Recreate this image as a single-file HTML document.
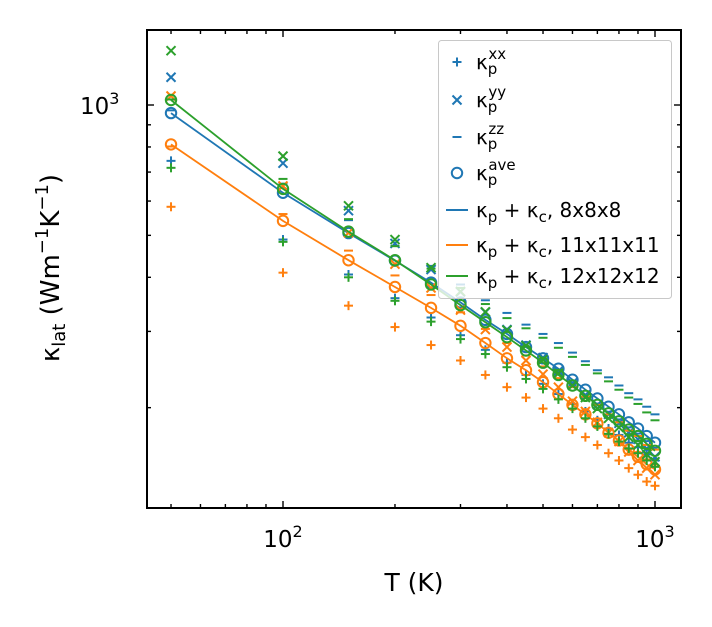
<!DOCTYPE html>
<html><head><meta charset="utf-8"><style>
html,body{margin:0;padding:0;background:#fff;}
svg{display:block;font-family:"DejaVu Sans","Liberation Sans",sans-serif;}
</style></head><body>
<svg id="chart" width="712" height="627" viewBox="0 0 712 627">
<rect x="0" y="0" width="712" height="627" fill="#fff"/>
<g id="marks"></g>
<g id="axes"></g>
<g id="legend"></g>
</svg>
<script>
const temps = [50,100,150,200,250,300,350,400,450,500,550,600,650,700,750,800,850,900,950,1000];
const blueXX = [743,489,406,358,323,294,272,254,238,227,215,204,196,187,179,173,166,162,156,151];
const blueYY = [1159,734,570,479,417,370,332,303,279,261,243,228,214,203,193,184,175,169,161,154];
const blueZZ = [972,658,542,473,425,385,354,331,311,296,282,268,256,244,235,225,216,209,201,193];
const blueAve = [958,627,506,437,389,350,319,296,276,260,246,232,220,210,201,193,185,179,172,166];
const orangeXX = [582,410,344,307,279,257,238,223,211,199,189,178,171,164,157,151,145,140,135,132];
const orangeYY = [1049,650,507,429,378,336,303,276,257,239,223,207,196,185,175,167,158,151,145,140];
const orangeZZ = [802,560,461,404,364,332,304,282,264,249,234,223,212,203,193,185,177,172,164,160];
const orangeAve = [811,540,438,380,340,309,282,260,244,229,215,203,193,184,175,168,160,154,148,144];
const greenXX = [716,483,400,353,316,288,266,248,233,221,209,199,189,181,174,167,161,157,151,146];
const greenYY = [1335,762,585,489,421,371,333,302,278,258,240,225,211,199,189,180,171,164,156,150];
const greenZZ = [1030,675,545,472,419,378,347,322,305,290,275,262,251,240,230,220,211,204,195,187];
const greenAve = [1027,640,510,438,385,345,315,291,271,254,238,225,213,203,194,186,178,172,165,159];
const xMajorTicks = [100,1000];
const xMajorLabels = ["2","3"];
const xMinorTicks = [50,60,70,80,90,200,300,400,500,600,700,800,900];
const yMajorTicks = [1000];
const yMinorTicks = [200,300,400,500,600,700,800,900];

const NS="http://www.w3.org/2000/svg";
const L=147,R=681,T=30,B=508;
function xs(v){return 283+372*(Math.log10(v)-2);}
function ys(v){return 105+433*(3-Math.log10(v));}
function mk(tag,attrs,parent){const e=document.createElementNS(NS,tag);for(const k in attrs)e.setAttribute(k,attrs[k]);parent.appendChild(e);return e;}
const marks=document.getElementById('marks');
const axes=document.getElementById('axes');
const legend=document.getElementById('legend');

function marker(type,cx,cy,color,parent){
  const g=mk('g',{stroke:color,'stroke-width':2,fill:'none'},parent);
  if(type==='plus'){mk('line',{x1:cx-4.5,y1:cy,x2:cx+4.5,y2:cy},g);mk('line',{x1:cx,y1:cy-4.5,x2:cx,y2:cy+4.5},g);}
  else if(type==='x'){mk('line',{x1:cx-4.5,y1:cy-4.5,x2:cx+4.5,y2:cy+4.5},g);mk('line',{x1:cx-4.5,y1:cy+4.5,x2:cx+4.5,y2:cy-4.5},g);}
  else if(type==='dash'){mk('line',{x1:cx-4.5,y1:cy,x2:cx+4.5,y2:cy},g);}
  else {mk('circle',{cx:cx,cy:cy,r:5.2},g);}
  return g;
}
const series=[
 {name:'8x8x8',color:'#1f77b4',xx:blueXX,yy:blueYY,zz:blueZZ,ave:blueAve},
 {name:'11x11x11',color:'#ff7f0e',xx:orangeXX,yy:orangeYY,zz:orangeZZ,ave:orangeAve},
 {name:'12x12x12',color:'#2ca02c',xx:greenXX,yy:greenYY,zz:greenZZ,ave:greenAve}
];
series.forEach(s=>{
  const g=mk('g',{},marks);
  
  
  [['plus',s.xx,'xx'],['x',s.yy,'yy'],['dash',s.zz,'zz'],['circle',s.ave,'ave']].forEach(([t,arr,nm])=>{
    arr.forEach((v,i)=>{
      const m=marker(t,xs(temps[i]),ys(v),s.color,g);
      
      
    });
  });
  const pts=s.ave.map((v,i)=>xs(temps[i]).toFixed(1)+','+ys(v).toFixed(1)).join(' ');
  const pl=mk('polyline',{points:pts,fill:'none',stroke:s.color,'stroke-width':1.8},g);
  
  
});

const fr=mk('rect',{x:L,y:T,width:R-L,height:B-T,fill:'none',stroke:'#000','stroke-width':2},axes);


function tick(x1,y1,x2,y2){mk('line',{x1,y1,x2,y2,stroke:'#000','stroke-width':1.4},axes);}
xMajorTicks.forEach((v,i)=>{const x=xs(v);tick(x,B,x,B-7);tick(x,T,x,T+7);
  const t=mk('text',{x:x,y:547,'font-size':23,'text-anchor':'middle',fill:'#000'},axes);
  t.innerHTML='10<tspan dy="-10" font-size="16">'+xMajorLabels[i]+'</tspan>';
  
  
});
xMinorTicks.forEach(v=>{const x=xs(v);tick(x,B,x,B-4);tick(x,T,x,T+4);});
yMajorTicks.forEach(v=>{const y=ys(v);tick(L,y,L+7,y);tick(R,y,R-7,y);
  const t=mk('text',{x:80,y:y+9,'font-size':23,fill:'#000'},axes);
  t.innerHTML='10<tspan dy="-10" font-size="16">3</tspan>';
  
  
});
yMinorTicks.forEach(v=>{const y=ys(v);tick(L,y,L+4,y);tick(R,y,R-4,y);});
const xl=mk('text',{x:414,y:591,'font-size':25,'text-anchor':'middle',fill:'#000'},axes);
xl.textContent='T (K)';


const yl=mk('text',{x:0,y:0,'font-size':26,'text-anchor':'middle',fill:'#000',transform:'translate(59,268) rotate(-90)'},axes);
yl.innerHTML='κ<tspan dy="6" font-size="18">lat</tspan><tspan dy="-6"> (Wm</tspan><tspan dy="-11" font-size="18">−1</tspan><tspan dy="11">K</tspan><tspan dy="-11" font-size="18">−1</tspan><tspan dy="11">)</tspan>';



const lb=mk('rect',{x:438.5,y:40.5,width:233,height:258,rx:3,fill:'#fff','fill-opacity':0.8,stroke:'#c8c8c8','stroke-width':1},legend);


const entries=[
 {type:'plus',html:'κ<tspan dy="5" font-size="15">p</tspan><tspan dy="-15" dx="-9" font-size="15">xx</tspan>',y:62},
 {type:'x',html:'κ<tspan dy="5" font-size="15">p</tspan><tspan dy="-15" dx="-9" font-size="15">yy</tspan>',y:100},
 {type:'dash',html:'κ<tspan dy="5" font-size="15">p</tspan><tspan dy="-15" dx="-9" font-size="15">zz</tspan>',y:137},
 {type:'circle',html:'κ<tspan dy="5" font-size="15">p</tspan><tspan dy="-15" dx="-9" font-size="15">ave</tspan>',y:173},
 {type:'line',color:'#1f77b4',html:'κ<tspan dy="5" font-size="15">p</tspan><tspan dy="-5"> + κ</tspan><tspan dy="5" font-size="15">c</tspan><tspan dy="-5">, 8x8x8</tspan>',y:210},
 {type:'line',color:'#ff7f0e',html:'κ<tspan dy="5" font-size="15">p</tspan><tspan dy="-5"> + κ</tspan><tspan dy="5" font-size="15">c</tspan><tspan dy="-5">, 11x11x11</tspan>',y:245},
 {type:'line',color:'#2ca02c',html:'κ<tspan dy="5" font-size="15">p</tspan><tspan dy="-5"> + κ</tspan><tspan dy="5" font-size="15">c</tspan><tspan dy="-5">, 12x12x12</tspan>',y:276}
];
entries.forEach(e=>{
  const g=mk('g',{},legend);
  
  
  if(e.type==='line'){mk('line',{x1:446,y1:e.y,x2:468,y2:e.y,stroke:e.color,'stroke-width':2},g);}
  else marker(e.type,457,e.y,'#1f77b4',g);
  const t=mk('text',{x:476,y:e.y+7,'font-size':20,fill:'#000'},g);
  t.innerHTML=e.html;
});
</script>
</body></html>
